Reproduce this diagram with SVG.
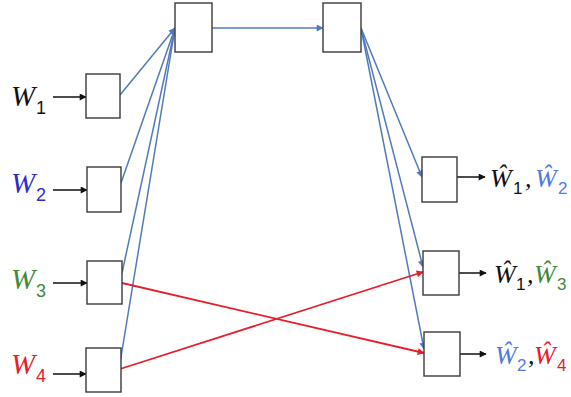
<svg xmlns="http://www.w3.org/2000/svg" width="571" height="397" viewBox="0 0 571 397">
<style>
.box{fill:#fff;stroke:#3a3a3a;stroke-width:1.4}
.bl{stroke:#4f7bbd;stroke-width:1.5;fill:none}
.rd{stroke:#e5202c;stroke-width:1.8;fill:none}
.bk{stroke:#111;stroke-width:1.5;fill:none}
.W{font-family:"Liberation Serif",serif;font-style:italic}
.s{font-family:"Liberation Sans","DejaVu Sans",sans-serif;font-style:normal}
</style>
<defs>
<marker id="ab" viewBox="0 0 10 10" refX="9" refY="5" markerWidth="8" markerHeight="7" markerUnits="userSpaceOnUse" orient="auto"><path d="M0,0 L10,5 L0,10 z" fill="#4f7bbd"/></marker>
<marker id="ar" viewBox="0 0 10 10" refX="9" refY="5" markerWidth="9" markerHeight="7" markerUnits="userSpaceOnUse" orient="auto"><path d="M0,0 L10,5 L0,10 z" fill="#e5202c"/></marker>
<marker id="ak" viewBox="0 0 10 10" refX="9" refY="5" markerWidth="8" markerHeight="7" markerUnits="userSpaceOnUse" orient="auto"><path d="M0,0 L10,5 L0,10 z" fill="#111"/></marker>
</defs>
<g id="connectors">
<line class="bk" x1="53" y1="97" x2="86" y2="97" marker-end="url(#ak)"/>
<line class="bk" x1="53" y1="190" x2="87" y2="190" marker-end="url(#ak)"/>
<line class="bk" x1="53" y1="283" x2="87" y2="283" marker-end="url(#ak)"/>
<line class="bk" x1="53" y1="374" x2="86" y2="374" marker-end="url(#ak)"/>
<line class="bl" x1="120" y1="95" x2="175" y2="28" marker-end="url(#ab)"/>
<line class="bl" x1="121" y1="183" x2="175" y2="28" marker-end="url(#ab)"/>
<line class="bl" x1="122" y1="273" x2="175" y2="28" marker-end="url(#ab)"/>
<line class="bl" x1="120" y1="363" x2="175" y2="28" marker-end="url(#ab)"/>
<line class="bl" x1="212" y1="28" x2="323" y2="28" marker-end="url(#ab)"/>
<line class="bl" x1="361" y1="28" x2="422" y2="177" marker-end="url(#ab)"/>
<line class="bl" x1="361" y1="28" x2="423" y2="267" marker-end="url(#ab)"/>
<line class="bl" x1="361" y1="28" x2="424" y2="349" marker-end="url(#ab)"/>
<line class="rd" x1="122" y1="283" x2="424" y2="353" marker-end="url(#ar)"/>
<line class="rd" x1="120" y1="369" x2="423" y2="272" marker-end="url(#ar)"/>
<line class="bk" x1="457" y1="177" x2="485" y2="177" marker-end="url(#ak)"/>
<line class="bk" x1="459" y1="273" x2="486" y2="273" marker-end="url(#ak)"/>
<line class="bk" x1="460" y1="354" x2="486" y2="354" marker-end="url(#ak)"/>
</g>
<g id="enc1"><rect class="box" x="86" y="74" width="34" height="44"/></g>
<g id="enc2"><rect class="box" x="87" y="167" width="34" height="45"/></g>
<g id="enc3"><rect class="box" x="87" y="261" width="35" height="43"/></g>
<g id="enc4"><rect class="box" x="86" y="348" width="35" height="44"/></g>
<g id="relay1"><rect class="box" x="175" y="3" width="37" height="49"/></g>
<g id="relay2"><rect class="box" x="323" y="3" width="38" height="49"/></g>
<g id="dec1"><rect class="box" x="422" y="157" width="35" height="45"/></g>
<g id="dec2"><rect class="box" x="423" y="251" width="36" height="44"/></g>
<g id="dec3"><rect class="box" x="424" y="332" width="36" height="44"/></g>
<g id="labels">
<text class="W" font-size="29" x="11" y="106" fill="#111">W<tspan class="s" font-size="18" x="36" y="114">1</tspan></text>
<text class="W" font-size="29" x="11" y="193" fill="#2a2ad0">W<tspan class="s" font-size="18" x="36" y="201">2</tspan></text>
<text class="W" font-size="29" x="11" y="289" fill="#3f8a3a">W<tspan class="s" font-size="18" x="36" y="297">3</tspan></text>
<text class="W" font-size="29" x="11" y="374" fill="#e5202c">W<tspan class="s" font-size="18" x="36" y="382">4</tspan></text>
<text class="W" font-size="26" x="490" y="187" fill="#111">Ŵ<tspan class="s" font-size="17" x="513" y="194">1</tspan><tspan x="525" y="187">,</tspan><tspan fill="#4f7be0" x="535" y="187">Ŵ</tspan><tspan class="s" fill="#4f7be0" font-size="17" x="558" y="194">2</tspan></text>
<text class="W" font-size="26" x="494" y="283" fill="#111">Ŵ<tspan class="s" font-size="17" x="516" y="290">1</tspan><tspan x="527" y="283">,</tspan><tspan fill="#3f8a3a" x="534" y="283">Ŵ</tspan><tspan class="s" fill="#3f8a3a" font-size="17" x="557" y="290">3</tspan></text>
<text class="W" font-size="26" x="495" y="364" fill="#4f7be0">Ŵ<tspan class="s" font-size="17" x="517" y="371">2</tspan><tspan fill="#111" x="528" y="364">,</tspan><tspan fill="#e5202c" x="534" y="364">Ŵ</tspan><tspan class="s" fill="#e5202c" font-size="17" x="557" y="371">4</tspan></text>
</g>
</svg>
